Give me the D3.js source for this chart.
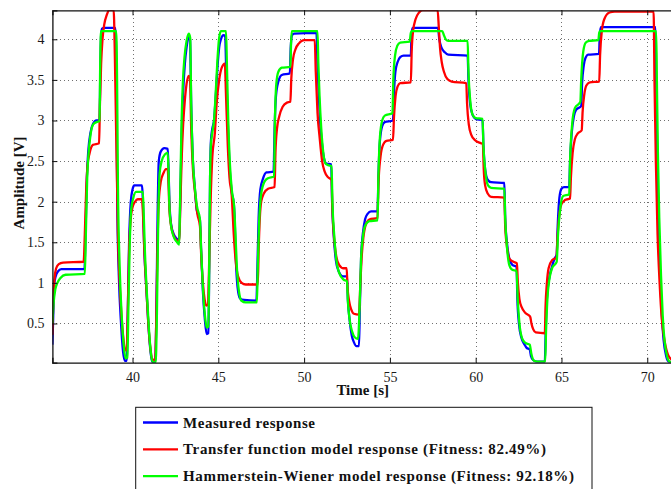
<!DOCTYPE html>
<html>
<head>
<meta charset="utf-8">
<script src="https://cdn.jsdelivr.net/npm/d3@7/dist/d3.min.js"></script>
<style>
  html, body { margin: 0; padding: 0; background: #fff; }
  svg { display: block; }
</style>
</head>
<body>
<svg id="chart" width="671" height="489"></svg>
<script>
// Axis ticks
const timeTicks = [40, 45, 50, 55, 60, 65, 70];
const ampTicks = [0.5, 1, 1.5, 2, 2.5, 3, 3.5, 4];

// Legend entries
const seriesNames = [
  "Measured response",
  "Transfer function model response (Fitness: 82.49%)",
  "Hammerstein-Wiener model response (Fitness: 92.18%)"
];

// Measured output, [time s, amplitude V]
const measured = [
  [35.33,0.24],[35.38,0.6],[35.44,0.98],[35.52,1.08],[35.65,1.14],[35.85,1.17],[37.2,1.17],
  [37.26,1.6],[37.34,2.3],[37.42,2.62],[37.55,2.85],[37.7,2.96],[37.9,3.0],[38.08,3.0],
  [38.12,3.6],[38.17,4.05],[38.22,4.13],[38.35,4.14],[39.0,4.14],
  [39.06,3.5],[39.11,2.0],[39.2,1.1],[39.33,0.5],[39.45,0.15],[39.55,0.04],[39.66,0.04],
  [39.72,0.6],[39.8,1.5],[39.9,2.0],[40.0,2.15],[40.1,2.2],[40.55,2.2],
  [40.62,1.9],[40.67,1.5],[40.8,0.95],[40.92,0.5],[41.05,0.15],[41.15,0.03],[41.32,0.02],
  [41.38,0.5],[41.46,1.8],[41.53,2.5],[41.65,2.62],[41.85,2.66],[42.05,2.65],
  [42.1,2.4],[42.15,2.0],[42.25,1.72],[42.4,1.6],[42.6,1.54],[42.72,1.51],
  [42.78,2.0],[42.86,2.8],[42.95,3.35],[43.05,3.7],[43.15,3.9],[43.28,4.03],[43.35,4.0],
  [43.42,3.2],[43.52,2.5],[43.62,2.2],[43.74,1.9],[43.93,1.77],
  [44.0,1.4],[44.1,0.9],[44.22,0.54],[44.32,0.37],[44.42,0.38],
  [44.47,1.2],[44.52,2.3],[44.57,2.75],[44.65,2.9],[44.75,3.0],[44.85,3.3],[44.95,3.65],
  [45.05,3.9],[45.15,4.0],[45.3,4.05],[45.4,4.04],
  [45.46,3.6],[45.55,3.0],[45.65,2.45],[45.78,2.12],[45.9,1.98],[45.95,1.8],[46.02,1.3],
  [46.12,0.95],[46.26,0.81],[46.5,0.79],[47.22,0.78],
  [47.28,1.2],[47.35,1.8],[47.45,2.15],[47.6,2.28],[47.8,2.36],[48.22,2.37],
  [48.28,2.9],[48.36,3.3],[48.5,3.48],[48.7,3.56],[49.17,3.58],
  [49.22,3.9],[49.3,4.05],[49.42,4.07],[50.72,4.08],
  [50.78,3.7],[50.85,3.35],[50.93,3.0],[51.05,2.7],[51.2,2.5],[51.3,2.47],[51.58,2.46],
  [51.63,2.0],[51.72,1.6],[51.85,1.28],[52.0,1.15],[52.27,1.08],[52.5,1.08],
  [52.55,0.8],[52.65,0.55],[52.78,0.35],[52.9,0.27],[53.05,0.22],[53.2,0.22],
  [53.25,0.7],[53.32,1.3],[53.42,1.6],[53.55,1.78],[53.7,1.85],[53.9,1.88],[54.28,1.88],
  [54.33,2.3],[54.42,2.75],[54.55,2.93],[54.7,2.98],[55.18,3.0],
  [55.24,3.35],[55.32,3.6],[55.45,3.72],[55.6,3.78],[55.8,3.8],[56.22,3.8],
  [56.26,4.05],[56.32,4.14],[57.8,4.14],
  [57.88,4.0],[58.0,3.9],[58.2,3.84],[58.4,3.81],[59.53,3.8],
  [59.58,3.5],[59.68,3.2],[59.82,3.07],[60.0,3.02],[60.4,3.0],
  [60.45,2.7],[60.55,2.4],[60.7,2.27],[60.9,2.24],[61.67,2.23],
  [61.72,1.8],[61.82,1.5],[61.96,1.3],[62.15,1.22],[62.38,1.2],
  [62.43,0.8],[62.52,0.5],[62.67,0.32],[62.85,0.24],[62.97,0.2],[63.15,0.18],
  [63.22,0.1],[63.35,0.05],[63.55,0.03],[64.03,0.03],
  [64.08,0.4],[64.15,0.8],[64.28,1.05],[64.42,1.18],[64.6,1.3],[64.72,1.35],
  [64.78,1.7],[64.88,2.05],[65.0,2.16],[65.15,2.18],[65.45,2.18],
  [65.5,2.5],[65.6,2.85],[65.72,3.05],[65.85,3.13],[66.15,3.18],
  [66.2,3.45],[66.3,3.68],[66.42,3.78],[66.55,3.81],[67.19,3.82],
  [67.23,4.05],[67.3,4.15],[70.48,4.15],
  [70.52,3.5],[70.58,2.6],[70.65,1.8],[70.75,1.1],[70.85,0.6],[70.95,0.3],[71.1,0.1],[71.25,0.03],[71.5,0.02]
];

// Transfer function model output
const transferFn = [
  [35.33,0.36],[35.38,0.8],[35.45,1.05],[35.55,1.18],[35.7,1.23],[35.95,1.25],[37.15,1.26],
  [37.22,1.6],[37.3,2.15],[37.38,2.45],[37.5,2.6],[37.7,2.7],[38.05,2.72],
  [38.1,3.2],[38.17,3.7],[38.25,4.0],[38.35,4.18],[38.5,4.3],[38.65,4.36],[38.9,4.36],
  [38.97,3.8],[39.05,2.8],[39.15,1.6],[39.3,0.8],[39.45,0.35],[39.58,0.17],[39.66,0.17],
  [39.72,0.6],[39.8,1.4],[39.9,1.8],[40.0,1.93],[40.15,2.0],[40.3,2.03],[40.55,2.03],
  [40.62,1.8],[40.68,1.45],[40.8,0.95],[40.92,0.5],[41.05,0.18],[41.15,0.06],[41.32,0.05],
  [41.38,0.5],[41.46,1.5],[41.53,2.0],[41.65,2.25],[41.8,2.35],[41.95,2.4],[42.05,2.4],
  [42.1,2.2],[42.15,1.9],[42.25,1.7],[42.4,1.58],[42.6,1.52],[42.72,1.5],
  [42.78,1.9],[42.86,2.5],[42.95,2.95],[43.05,3.25],[43.15,3.45],[43.28,3.55],[43.35,3.52],
  [43.42,2.9],[43.52,2.4],[43.65,2.1],[43.78,1.85],[43.93,1.7],
  [44.0,1.35],[44.1,1.0],[44.2,0.8],[44.3,0.72],[44.4,0.74],
  [44.45,1.1],[44.55,2.0],[44.65,2.55],[44.8,2.85],[44.9,3.2],[45.05,3.5],[45.2,3.65],[45.38,3.7],
  [45.45,3.3],[45.55,2.7],[45.65,2.3],[45.78,2.08],[45.9,1.6],[46.0,1.3],[46.15,1.08],
  [46.36,1.0],[46.6,0.98],[47.3,0.98],
  [47.35,1.4],[47.42,1.8],[47.5,2.0],[47.65,2.1],[47.9,2.16],[48.28,2.18],
  [48.33,2.6],[48.42,2.9],[48.55,3.05],[48.75,3.17],[49.0,3.22],[49.2,3.23],
  [49.25,3.5],[49.35,3.75],[49.5,3.88],[49.7,3.95],[50.0,3.99],[50.62,3.99],
  [50.68,3.6],[50.78,3.1],[50.91,2.78],[51.05,2.5],[51.2,2.37],[51.4,2.3],[51.6,2.27],
  [51.65,1.9],[51.75,1.55],[51.88,1.32],[52.05,1.22],[52.3,1.18],[52.48,1.18],
  [52.53,0.95],[52.62,0.78],[52.75,0.67],[52.9,0.62],[53.2,0.61],
  [53.28,1.0],[53.35,1.3],[53.45,1.55],[53.6,1.72],[53.8,1.78],[54.28,1.8],
  [54.33,2.2],[54.45,2.55],[54.6,2.7],[54.8,2.75],[55.18,2.76],
  [55.24,3.05],[55.33,3.3],[55.45,3.42],[55.6,3.46],[56.22,3.47],
  [56.27,3.85],[56.35,4.1],[56.5,4.25],[56.7,4.33],[56.9,4.36],[57.78,4.36],
  [57.85,4.15],[57.92,3.9],[58.02,3.72],[58.15,3.6],[58.35,3.51],[58.6,3.48],[59.45,3.46],
  [59.5,3.2],[59.6,2.95],[59.75,2.82],[59.95,2.76],[60.3,2.72],[60.42,2.71],
  [60.47,2.4],[60.55,2.2],[60.7,2.1],[60.9,2.06],[61.67,2.05],
  [61.72,1.7],[61.82,1.45],[61.96,1.3],[62.2,1.26],[62.4,1.24],
  [62.46,1.0],[62.55,0.8],[62.68,0.7],[62.9,0.63],[63.1,0.6],[63.18,0.58],
  [63.25,0.5],[63.35,0.43],[63.5,0.39],[64.03,0.38],
  [64.07,0.7],[64.15,1.0],[64.25,1.18],[64.45,1.28],[64.7,1.31],
  [64.78,1.6],[64.88,1.85],[65.0,1.97],[65.2,2.02],[65.5,2.04],
  [65.55,2.3],[65.65,2.6],[65.78,2.77],[65.95,2.84],[66.18,2.88],
  [66.23,3.1],[66.33,3.32],[66.45,3.43],[66.65,3.47],[67.2,3.48],
  [67.25,3.8],[67.35,4.1],[67.5,4.25],[67.8,4.33],[68.1,4.34],[70.37,4.34],
  [70.42,3.5],[70.5,2.5],[70.6,1.6],[70.72,1.0],[70.85,0.55],[71.0,0.3],[71.2,0.12],[71.5,0.04]
];

// Hammerstein-Wiener model output
const hammerstein = [
  [35.33,0.5],[35.4,0.75],[35.5,0.92],[35.62,1.0],[35.8,1.06],[36.1,1.1],[37.22,1.11],
  [37.28,1.6],[37.36,2.3],[37.44,2.6],[37.55,2.82],[37.7,2.95],[37.9,2.98],[38.08,2.99],
  [38.11,3.6],[38.15,4.05],[38.18,4.1],[39.05,4.1],
  [39.1,3.5],[39.15,2.2],[39.25,1.2],[39.38,0.55],[39.5,0.2],[39.6,0.07],[39.7,0.08],
  [39.76,0.7],[39.84,1.5],[39.92,1.9],[40.05,2.05],[40.2,2.12],[40.6,2.12],
  [40.66,1.8],[40.72,1.4],[40.83,0.9],[40.95,0.45],[41.08,0.12],[41.18,0.03],[41.35,0.02],
  [41.42,0.6],[41.5,1.8],[41.58,2.35],[41.7,2.5],[41.88,2.58],[42.05,2.6],
  [42.1,2.35],[42.15,1.95],[42.25,1.7],[42.4,1.57],[42.6,1.5],[42.72,1.47],
  [42.77,2.0],[42.85,2.9],[42.93,3.45],[43.03,3.78],[43.15,3.98],[43.28,4.07],[43.36,4.02],
  [43.42,3.2],[43.52,2.5],[43.62,2.2],[43.75,1.95],[43.93,1.78],
  [44.0,1.4],[44.1,0.95],[44.22,0.6],[44.32,0.45],[44.42,0.46],
  [44.47,1.2],[44.52,2.3],[44.57,2.7],[44.65,2.85],[44.75,3.0],[44.85,3.35],[44.95,3.75],
  [45.05,4.02],[45.15,4.1],[45.45,4.1],
  [45.5,3.7],[45.58,3.0],[45.68,2.45],[45.8,2.12],[45.92,1.95],[46.0,1.6],[46.08,1.2],
  [46.2,0.9],[46.35,0.78],[46.6,0.76],[47.25,0.76],
  [47.3,1.2],[47.38,1.75],[47.5,2.1],[47.7,2.25],[47.9,2.29],[48.25,2.31],
  [48.3,3.0],[48.38,3.45],[48.5,3.6],[48.7,3.65],[49.2,3.66],
  [49.24,3.95],[49.28,4.1],[50.78,4.1],
  [50.83,3.7],[50.9,3.3],[51.0,2.9],[51.12,2.6],[51.25,2.47],[51.4,2.45],[51.6,2.44],
  [51.65,2.0],[51.75,1.6],[51.88,1.28],[52.05,1.12],[52.3,1.04],[52.5,1.02],
  [52.55,0.78],[52.65,0.55],[52.8,0.4],[52.95,0.33],[53.14,0.31],
  [53.25,0.8],[53.32,1.3],[53.42,1.55],[53.55,1.7],[53.8,1.76],[54.28,1.77],
  [54.33,2.3],[54.42,2.8],[54.55,3.0],[54.7,3.06],[55.15,3.09],
  [55.2,3.5],[55.3,3.8],[55.43,3.92],[55.6,3.96],[56.15,3.97],
  [56.22,4.08],[56.28,4.1],[58.05,4.1],
  [58.15,4.05],[58.25,4.0],[58.4,3.98],[59.53,3.98],
  [59.58,3.6],[59.68,3.25],[59.82,3.07],[60.0,3.03],[60.4,3.02],
  [60.45,2.7],[60.55,2.4],[60.72,2.2],[60.9,2.17],[61.67,2.16],
  [61.72,1.8],[61.82,1.45],[61.96,1.22],[62.15,1.16],[62.38,1.15],
  [62.45,0.8],[62.55,0.5],[62.7,0.32],[62.9,0.26],[63.15,0.24],
  [63.25,0.12],[63.4,0.04],[63.6,0.03],[64.05,0.03],
  [64.1,0.4],[64.18,0.8],[64.3,1.05],[64.45,1.18],[64.72,1.26],
  [64.8,1.6],[64.95,1.95],[65.1,2.07],[65.45,2.09],
  [65.5,2.5],[65.62,2.95],[65.78,3.15],[66.1,3.23],
  [66.15,3.5],[66.27,3.85],[66.42,3.96],[66.6,3.98],[67.15,3.99],
  [67.2,4.08],[67.25,4.1],[70.52,4.1],
  [70.56,3.5],[70.62,2.6],[70.7,1.8],[70.8,1.1],[70.9,0.6],[71.0,0.3],[71.15,0.1],[71.3,0.03],[71.5,0.02]
];

const seriesData = [measured, transferFn, hammerstein];
const seriesColors = ["#0000ff", "#ff0000", "#00ff00"];
const serifFont = "'Liberation Serif', 'DejaVu Serif', serif";

const svg = d3.select("#chart");
const plot = { left: 52.4, right: 673, top: 10.3, bottom: 362.7 };

const x = d3.scaleLinear().domain([35.33, 71.5]).range([plot.left, plot.right]);
const y = d3.scaleLinear().domain([0.017, 4.357]).range([plot.bottom, plot.top]);

svg.append("defs").append("clipPath").attr("id", "plot-clip")
  .append("rect")
  .attr("x", plot.left).attr("y", plot.top)
  .attr("width", plot.right - plot.left).attr("height", plot.bottom - plot.top);

// Dotted grid
const grid = svg.append("g").attr("stroke", "#707070").attr("stroke-width", 1)
  .attr("stroke-dasharray", "1,3").attr("shape-rendering", "crispEdges");
grid.selectAll("line.gx").data(timeTicks).join("line")
  .attr("x1", d => Math.round(x(d)) + 0.5).attr("x2", d => Math.round(x(d)) + 0.5)
  .attr("y1", plot.top).attr("y2", plot.bottom);
grid.selectAll("line.gy").data(ampTicks).join("line")
  .attr("x1", plot.left).attr("x2", plot.right)
  .attr("y1", d => Math.round(y(d)) + 0.5).attr("y2", d => Math.round(y(d)) + 0.5);

// Response curves
const line = d3.line().x(d => x(d[0])).y(d => y(d[1])).curve(d3.curveMonotoneX);
svg.append("g").attr("clip-path", "url(#plot-clip)")
  .selectAll("path").data(seriesData).join("path")
  .attr("d", line)
  .attr("fill", "none")
  .attr("stroke", (d, i) => seriesColors[i])
  .attr("stroke-width", 2.3)
  .attr("stroke-linejoin", "round");

// Axes with inward ticks
const bottomAxis = d3.axisBottom(x).tickValues(timeTicks).tickSize(-5).tickPadding(9).tickFormat(d3.format("d"));
const topAxis = d3.axisTop(x).tickValues(timeTicks).tickSize(-5).tickFormat("");
const leftAxis = d3.axisLeft(y).tickValues(ampTicks).tickSize(-5).tickPadding(8).tickFormat(d => String(d));

function styleAxis(g) {
  g.attr("font-family", null).attr("font-size", null);
  g.select(".domain").attr("stroke", "#111").attr("stroke-width", 1.3);
  g.selectAll(".tick line").attr("stroke", "#111").attr("stroke-width", 1);
  g.selectAll(".tick text")
    .style("font-family", serifFont).style("font-size", "14px").attr("fill", "#1a1a1a");
}

svg.append("g").attr("transform", `translate(0,${plot.bottom})`).call(bottomAxis).call(styleAxis);
svg.append("g").attr("transform", `translate(0,${plot.top})`).call(topAxis).call(styleAxis);
svg.append("g").attr("transform", `translate(${plot.left},0)`).call(leftAxis).call(styleAxis);

// Axis titles
function boldSerif(sel, size) {
  sel.style("font-family", serifFont).style("font-weight", "bold")
    .style("font-size", size + "px").attr("fill", "#111");
}
svg.append("text").call(boldSerif, 15)
  .attr("x", (plot.left + plot.right) / 2).attr("y", 395)
  .attr("text-anchor", "middle").text("Time [s]");
svg.append("text").call(boldSerif, 15)
  .attr("transform", "translate(23.5,183) rotate(-90)")
  .attr("text-anchor", "middle").text("Amplitude [V]");

// Legend
const legend = svg.append("g");
legend.append("rect")
  .attr("x", 135.7).attr("y", 407.3).attr("width", 456.3).attr("height", 100)
  .attr("fill", "#fff").attr("stroke", "#111").attr("stroke-width", 1);
const legendWidths = [132, 363, 391];
const rows = legend.selectAll("g.row").data(seriesNames).join("g")
  .attr("transform", (d, i) => `translate(0,${422.5 + i * 26.8})`);
rows.append("line")
  .attr("x1", 143).attr("x2", 178).attr("y1", 0).attr("y2", 0)
  .attr("stroke", (d, i) => seriesColors[i]).attr("stroke-width", 2.3);
rows.append("text").call(boldSerif, 15)
  .attr("x", 183).attr("y", 5)
  .attr("textLength", (d, i) => legendWidths[i]).attr("lengthAdjust", "spacing")
  .text(d => d);
</script>
</body>
</html>
